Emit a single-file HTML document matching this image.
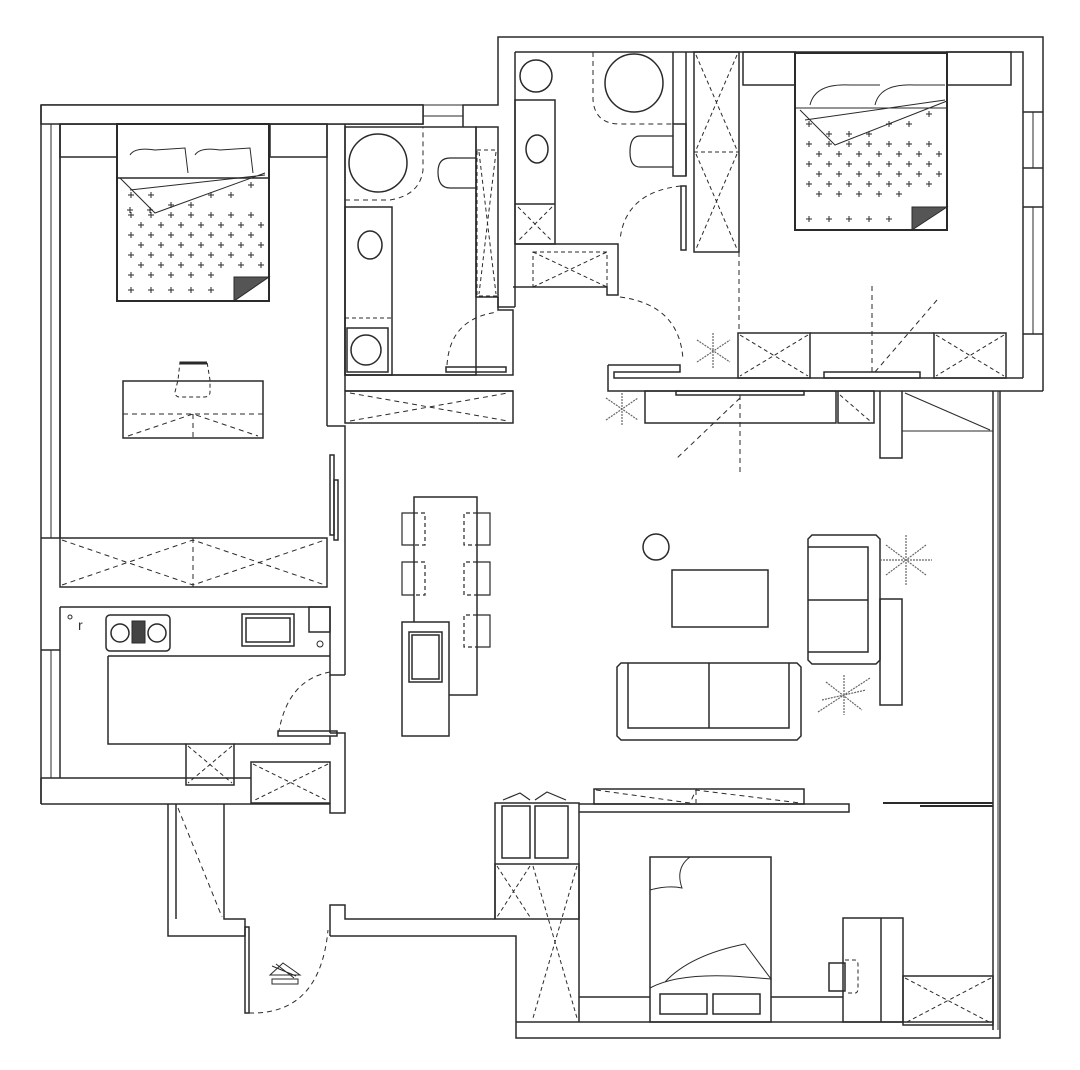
<!DOCTYPE html>
<html><head><meta charset="utf-8"><style>
html,body{margin:0;padding:0;background:#fff;}
svg{display:block;}
</style></head><body>
<svg width="1080" height="1070" viewBox="0 0 1080 1070" xmlns="http://www.w3.org/2000/svg">
<g fill="none" stroke="#2a2a2a" stroke-width="1.5">
<!-- ===== LEFT WING OUTER WALLS ===== -->
<path d="M41,105 H423 V124 H60 V538" fill="#fff"/>
<rect x="41" y="105" width="382" height="19" fill="#fff"/>
<line x1="41" y1="105" x2="41" y2="804"/>
<line x1="60" y1="124" x2="60" y2="538"/>
<line x1="51" y1="124" x2="51" y2="538" stroke-width="1"/>
<line x1="41" y1="538" x2="60" y2="538"/>
<line x1="41" y1="650" x2="60" y2="650"/>
<line x1="60" y1="607" x2="60" y2="650"/>
<line x1="51" y1="650" x2="51" y2="778" stroke-width="1"/>
<line x1="60" y1="650" x2="60" y2="778"/>
<line x1="41" y1="778" x2="60" y2="778"/>
<!-- window in top wall -->
<line x1="423" y1="105" x2="463" y2="105" stroke-width="1"/>
<line x1="423" y1="116" x2="463" y2="116" stroke-width="1"/>
<line x1="423" y1="127" x2="463" y2="127" stroke-width="1"/>
<path d="M463,127 V105 H498 V37 H1043 V391"/>
<path d="M515,52 H1023 V378"/>
<!-- right window -->
<line x1="1023" y1="112" x2="1043" y2="112"/><line x1="1023" y1="168" x2="1043" y2="168"/>
<line x1="1023" y1="207" x2="1043" y2="207"/><line x1="1023" y1="334" x2="1043" y2="334"/>
<line x1="1033" y1="112" x2="1033" y2="168" stroke-width="1"/>
<line x1="1033" y1="207" x2="1033" y2="334" stroke-width="1"/>
<!-- bedroom1 -->
<rect x="60" y="124" width="57" height="33"/>
<rect x="270" y="124" width="57" height="33"/>
<rect x="117" y="124" width="152" height="177" stroke-width="2"/>
<path d="M117,178 H269"/>
<path d="M130,155 q5,-8 25,-5 l30,-2 l3,25 M195,155 q5,-8 25,-5 l30,-2 l3,25" stroke-width="1"/>
<path d="M120,178 l35,35 l110,-40 M130,190 l135,-15" stroke-width="1"/>
<path d="M234,301 V277 H269 Z" fill="#555" stroke-width="1"/>
<g stroke-width="1">
<path id="crosses1" d="M127,210 h6 m-3,-3 v6 M147,210 h6 m-3,-3 v6"/>
</g>
<line x1="327" y1="124" x2="327" y2="426"/>
<line x1="345" y1="124" x2="345" y2="391"/>
<path d="M327,426 H345 V670"/>
<!-- desk -->
<rect x="123" y="381" width="140" height="57"/>
<path d="M123,414 H263 M193,414 V438 M128,436 L193,414 L258,436" stroke-dasharray="5,4" stroke-width="1"/>
<path d="M180,362 H207 L210,380 V392 Q210,397 204,397 H180 Q175,397 175,392 L178,380 Z" stroke-dasharray="4,3" stroke-width="1"/>
<line x1="180" y1="363" x2="207" y2="363" stroke-width="3"/>
<!-- sliding doors -->
<rect x="330" y="455" width="4" height="80"/><rect x="334" y="480" width="4" height="60"/>
<!-- bathroom 1 -->
<rect x="345" y="127" width="131" height="248"/>
<circle cx="378" cy="163" r="29"/>
<path d="M345,200 H390 Q420,195 423,170 V127" stroke-dasharray="5,4" stroke-width="1"/>
<path d="M476,158 H450 Q438,158 438,172 Q438,188 450,188 H476" stroke-width="1.2"/>
<rect x="345" y="207" width="47" height="168"/>
<ellipse cx="370" cy="245" rx="12" ry="14"/>
<line x1="345" y1="318" x2="392" y2="318" stroke-dasharray="4,3" stroke-width="1"/>
<rect x="347" y="328" width="41" height="44"/>
<circle cx="366" cy="350" r="15"/>
<rect x="476" y="127" width="22" height="170"/>
<rect x="477" y="150" width="21" height="146" stroke-dasharray="4,3" stroke-width="1"/>
<path d="M479,152 L496,294 M496,152 L479,294" stroke-dasharray="4,3" stroke-width="1"/>
<path d="M498,297 V310 H513 V375 H345"/>
<rect x="446" y="367" width="60" height="5"/>
<path d="M447,365 Q450,318 498,312" stroke-dasharray="5,4" stroke-width="1"/>
<rect x="345" y="391" width="168" height="32"/>
<path d="M350,393 L508,421 M350,421 L508,393" stroke-dasharray="5,4" stroke-width="1"/>
<line x1="345" y1="391" x2="513" y2="391"/>
<!-- bathroom 2 -->
<line x1="515" y1="52" x2="515" y2="307"/>
<path d="M498,297 V307 H515"/>
<circle cx="536" cy="76" r="16"/>
<rect x="515" y="100" width="40" height="144"/>
<ellipse cx="537" cy="149" rx="11" ry="14"/>
<line x1="515" y1="204" x2="555" y2="204"/>
<path d="M518,207 L552,241 M552,207 L518,241" stroke-dasharray="4,3" stroke-width="1"/>
<path d="M515,244 H618 V295 H607 V287 H513"/>
<rect x="533" y="252" width="74" height="35" stroke-dasharray="4,3" stroke-width="1"/>
<path d="M533,252 L607,287 M533,287 L607,252" stroke-dasharray="4,3" stroke-width="1"/>
<circle cx="634" cy="83" r="29"/>
<path d="M593,52 V100 Q595,124 620,124 H673" stroke-dasharray="5,4" stroke-width="1"/>
<rect x="673" y="124" width="13" height="52"/>
<path d="M673,136 H640 Q630,136 630,152 Q630,167 640,167 H673" stroke-width="1.2"/>
<line x1="673" y1="52" x2="673" y2="124"/>
<line x1="686" y1="52" x2="686" y2="176"/>
<rect x="681" y="186" width="5" height="64"/>
<path d="M681,186 Q625,192 620,240" stroke-dasharray="5,4" stroke-width="1"/>
<rect x="694" y="52" width="45" height="200"/>
<path d="M694,152 H739 M696,55 L737,150 M737,55 L696,150 M696,154 L737,249 M737,154 L696,249" stroke-dasharray="4,3" stroke-width="1"/>
<!-- bedroom2 -->
<rect x="743" y="52" width="52" height="33"/>
<rect x="947" y="52" width="64" height="33"/>
<rect x="795" y="53" width="152" height="177" stroke-width="2"/>
<path d="M795,108 H947 M800,110 l35,35 l112,-44 M805,120 l140,-20" stroke-width="1"/>
<path d="M810,105 q5,-22 40,-20 l30,0 M875,105 q5,-22 40,-20 l30,0" stroke-width="1"/>
<path d="M912,230 V207 H947 Z" fill="#555" stroke-width="1"/>
<!-- bedroom2 bottom -->
<path d="M608,365 V391 H1043"/>
<path d="M608,365 H680 V372 H614 V378 H1023"/>
<rect x="738" y="333" width="72" height="45"/>
<rect x="934" y="333" width="72" height="45"/>
<path d="M740,335 L808,376 M808,335 L740,376 M936,335 L1004,376 M1004,335 L936,376" stroke-dasharray="4,3" stroke-width="1"/>
<line x1="810" y1="333" x2="934" y2="333"/>
<rect x="824" y="372" width="96" height="6"/>
<path d="M739,252 V333 M872,286 V375 M937,300 L875,372" stroke-dasharray="5,4" stroke-width="1"/>
<path d="M620,297 Q680,305 683,360" stroke-dasharray="5,4" stroke-width="1"/>
<!-- TV cabinets -->
<rect x="645" y="391" width="191" height="32"/>
<rect x="676" y="391" width="128" height="4"/>
<rect x="838" y="391" width="36" height="32"/>
<path d="M840,395 L870,421" stroke-dasharray="4,3" stroke-width="1"/>
<path d="M880,391 V458 H902 V391"/>
<path d="M902,431 H993 M905,393 L990,430" stroke-width="1"/>
<path d="M740,395 V475 M740,398 L675,460" stroke-dasharray="5,4" stroke-width="1"/>
<!-- right thin wall -->
<line x1="993" y1="391" x2="993" y2="1030"/>
<line x1="998" y1="391" x2="998" y2="1030" stroke-width="1"/>
<line x1="1000" y1="391" x2="1000" y2="1030"/>
<!-- dining -->
<rect x="414" y="497" width="63" height="198"/>
<rect x="402" y="622" width="47" height="114" fill="#fff"/>
<rect x="409" y="632" width="33" height="50"/>
<rect x="412" y="635" width="27" height="44"/>
<g stroke-width="1.2">
<path d="M414,513 H402 V545 H414 M414,562 H402 V595 H414 M477,513 H490 V545 H477 M477,562 H490 V595 H477 M477,615 H490 V647 H477"/>
<path d="M414,513 h11 v32 h-11 M414,562 h11 v33 h-11 M477,513 h-13 v32 h13 M477,562 h-13 v33 h13 M477,615 h-13 v32 h13" stroke-dasharray="4,3"/>
</g>
<!-- living -->
<circle cx="656" cy="547" r="13"/>
<rect x="672" y="570" width="96" height="57"/>
<path d="M621,663 H797 L801,667 V736 L797,740 H621 L617,736 V667 Z"/>
<path d="M628,663 V728 H789 V663 M709,663 V728"/>
<path d="M812,535 H876 L880,539 V660 L876,664 H812 L808,660 V539 Z"/>
<path d="M808,547 H868 V652 H808 M808,600 H868"/>
<rect x="880" y="599" width="22" height="106"/>
<g stroke="#666" stroke-width="1.2" stroke-dasharray="2,1">
<path d="M886,545 L926,575 M926,545 L886,575 M906,535 V585 M880,560 H932"/>
<path d="M822,700 L866,690 M826,682 L862,710 M844,675 V715 M818,712 L870,678"/>
<path d="M606,398 L638,420 M606,420 L638,398 M622,390 V426"/>
<path d="M697,340 L730,362 M697,362 L730,340 M713,333 V368"/>
</g>
<!-- kitchen -->
<rect x="60" y="538" width="267" height="49"/>
<path d="M62,540 L193,585 L325,540 M62,585 L193,540 L325,585 M193,538 V587" stroke-dasharray="5,4" stroke-width="1"/>
<path d="M60,607 H330 V675 H345 M345,670 V675"/>
<path d="M108,656 H330 M108,656 V744 H186"/>
<rect x="106" y="615" width="64" height="36" rx="4"/>
<circle cx="120" cy="633" r="9"/><circle cx="157" cy="633" r="9"/>
<rect x="132" y="621" width="13" height="22" fill="#444" stroke-width="1"/>
<rect x="242" y="614" width="52" height="32"/>
<rect x="246" y="618" width="44" height="24"/>
<rect x="309" y="607" width="21" height="25"/>
<circle cx="320" cy="644" r="3" stroke-width="1"/>
<circle cx="70" cy="617" r="2" stroke-width="1"/>
<text x="78" y="630" font-family="Liberation Sans, sans-serif" font-size="14" fill="#333" stroke="none">r</text>
<path d="M330,675 V733"/>
<path d="M330,672 Q288,680 279,731" stroke-dasharray="5,4" stroke-width="1"/>
<rect x="278" y="731" width="59" height="5"/>
<path d="M330,736 V744 H234 M330,733 H345 V813 H330 V803"/>
<rect x="186" y="744" width="48" height="41"/>
<path d="M188,746 L232,783 M232,746 L188,783" stroke-dasharray="4,3" stroke-width="1"/>
<rect x="251" y="762" width="79" height="41"/>
<path d="M253,764 L328,801 M328,764 L253,801" stroke-dasharray="4,3" stroke-width="1"/>
<path d="M60,778 H251 M41,804 H330 M41,778 V804"/>
<!-- entry corridor -->
<path d="M168,804 V936 H245 V919 H224 V804"/>
<line x1="176" y1="804" x2="176" y2="919"/>
<path d="M178,808 L222,917" stroke-dasharray="5,4" stroke-width="1"/>
<rect x="245" y="927" width="4" height="86"/>
<path d="M249,1013 Q320,1015 328,930" stroke-dasharray="5,4" stroke-width="1"/>
<path d="M330,936 V905 H345 V919 H495 M330,936 H516 V1038 H1000 V1030"/>
<path d="M516,1022 H993" />
<path d="M270,975 L283,963 L300,975 Z M272,979 H298 V984 H272 Z" stroke-width="1"/>
<path d="M272,966 L296,976 M276,964 L294,978" stroke-width="1"/>
<!-- bedroom3 -->
<path d="M495,919 V803 H579 V1022"/>
<rect x="502" y="806" width="28" height="52"/>
<rect x="535" y="806" width="33" height="52"/>
<path d="M503,800 L520,793 L530,800 M535,800 L547,792 L566,800" stroke-width="1.2"/>
<rect x="495" y="864" width="84" height="55"/>
<path d="M497,866 L530,917 M530,866 L497,917 M533,866 L577,1018 M577,866 L533,1018" stroke-dasharray="4,3" stroke-width="1"/>
<path d="M579,804 H849 V812 H579"/>
<rect x="594" y="789" width="210" height="15"/>
<path d="M596,790 L690,803 L696,790 L800,803 M696,790 V803" stroke-dasharray="5,4" stroke-width="1"/>
<path d="M883,803 H993 M920,806 H993" stroke-width="2"/>
<rect x="650" y="857" width="121" height="165"/>
<path d="M650,890 Q668,885 682,888 Q675,868 690,857" stroke-width="1"/>
<path d="M650,988 Q680,972 745,977 Q760,978 771,979 L745,944 Q690,955 665,982" stroke-width="1"/>
<rect x="660" y="994" width="47" height="20"/><rect x="713" y="994" width="47" height="20"/>
<path d="M579,997 H650 M771,997 H843"/>
<rect x="843" y="918" width="60" height="104"/>
<line x1="881" y1="918" x2="881" y2="1022"/>
<path d="M829,963 H845 V991 H829 Z"/>
<path d="M845,960 H855 Q858,960 858,965 V988 Q858,993 855,993 H845" stroke-dasharray="4,3" stroke-width="1"/>
<rect x="903" y="976" width="90" height="49"/>
<path d="M905,978 L991,1023 M991,978 L905,1023" stroke-dasharray="4,3" stroke-width="1"/>
</g>
<!-- bed crosses -->
<g stroke="#2a2a2a" stroke-width="1">
<path d="M128,195h6m-3-3v6M148,195h6m-3-3v6M168,205h6m-3-3v6M188,205h6m-3-3v6M208,195h6m-3-3v6M228,195h6m-3-3v6M248,185h6m-3-3v6"/>
<path d="M128,215h6m-3-3v6M148,215h6m-3-3v6M168,215h6m-3-3v6M188,215h6m-3-3v6M208,215h6m-3-3v6M228,215h6m-3-3v6M248,215h6m-3-3v6"/>
<path d="M138,225h6m-3-3v6M158,225h6m-3-3v6M178,225h6m-3-3v6M198,225h6m-3-3v6M218,225h6m-3-3v6M238,225h6m-3-3v6M258,225h6m-3-3v6"/>
<path d="M128,235h6m-3-3v6M148,235h6m-3-3v6M168,235h6m-3-3v6M188,235h6m-3-3v6M208,235h6m-3-3v6M228,235h6m-3-3v6M248,235h6m-3-3v6"/>
<path d="M138,245h6m-3-3v6M158,245h6m-3-3v6M178,245h6m-3-3v6M198,245h6m-3-3v6M218,245h6m-3-3v6M238,245h6m-3-3v6M258,245h6m-3-3v6"/>
<path d="M128,255h6m-3-3v6M148,255h6m-3-3v6M168,255h6m-3-3v6M188,255h6m-3-3v6M208,255h6m-3-3v6M228,255h6m-3-3v6M248,255h6m-3-3v6"/>
<path d="M138,265h6m-3-3v6M158,265h6m-3-3v6M178,265h6m-3-3v6M198,265h6m-3-3v6M218,265h6m-3-3v6M238,265h6m-3-3v6M258,265h6m-3-3v6"/>
<path d="M128,275h6m-3-3v6M148,275h6m-3-3v6M168,275h6m-3-3v6M188,275h6m-3-3v6M208,275h6m-3-3v6"/>
<path d="M128,290h6m-3-3v6M148,290h6m-3-3v6M168,290h6m-3-3v6M188,290h6m-3-3v6M208,290h6m-3-3v6"/>
</g>
<g stroke="#2a2a2a" stroke-width="1" transform="translate(678,-71)">
<path d="M128,195h6m-3-3v6M148,205h6m-3-3v6M168,205h6m-3-3v6M188,205h6m-3-3v6M208,195h6m-3-3v6M228,195h6m-3-3v6M248,185h6m-3-3v6"/>
<path d="M128,215h6m-3-3v6M148,215h6m-3-3v6M168,215h6m-3-3v6M188,215h6m-3-3v6M208,215h6m-3-3v6M228,215h6m-3-3v6M248,215h6m-3-3v6"/>
<path d="M138,225h6m-3-3v6M158,225h6m-3-3v6M178,225h6m-3-3v6M198,225h6m-3-3v6M218,225h6m-3-3v6M238,225h6m-3-3v6M258,225h6m-3-3v6"/>
<path d="M128,235h6m-3-3v6M148,235h6m-3-3v6M168,235h6m-3-3v6M188,235h6m-3-3v6M208,235h6m-3-3v6M228,235h6m-3-3v6M248,235h6m-3-3v6"/>
<path d="M138,245h6m-3-3v6M158,245h6m-3-3v6M178,245h6m-3-3v6M198,245h6m-3-3v6M218,245h6m-3-3v6M238,245h6m-3-3v6M258,245h6m-3-3v6"/>
<path d="M128,255h6m-3-3v6M148,255h6m-3-3v6M168,255h6m-3-3v6M188,255h6m-3-3v6M208,255h6m-3-3v6M228,255h6m-3-3v6M248,255h6m-3-3v6"/>
<path d="M138,265h6m-3-3v6M158,265h6m-3-3v6M178,265h6m-3-3v6M198,265h6m-3-3v6M218,265h6m-3-3v6"/>
<path d="M128,290h6m-3-3v6M148,290h6m-3-3v6M168,290h6m-3-3v6M188,290h6m-3-3v6M208,290h6m-3-3v6"/>
</g>
</svg>
</body></html>
